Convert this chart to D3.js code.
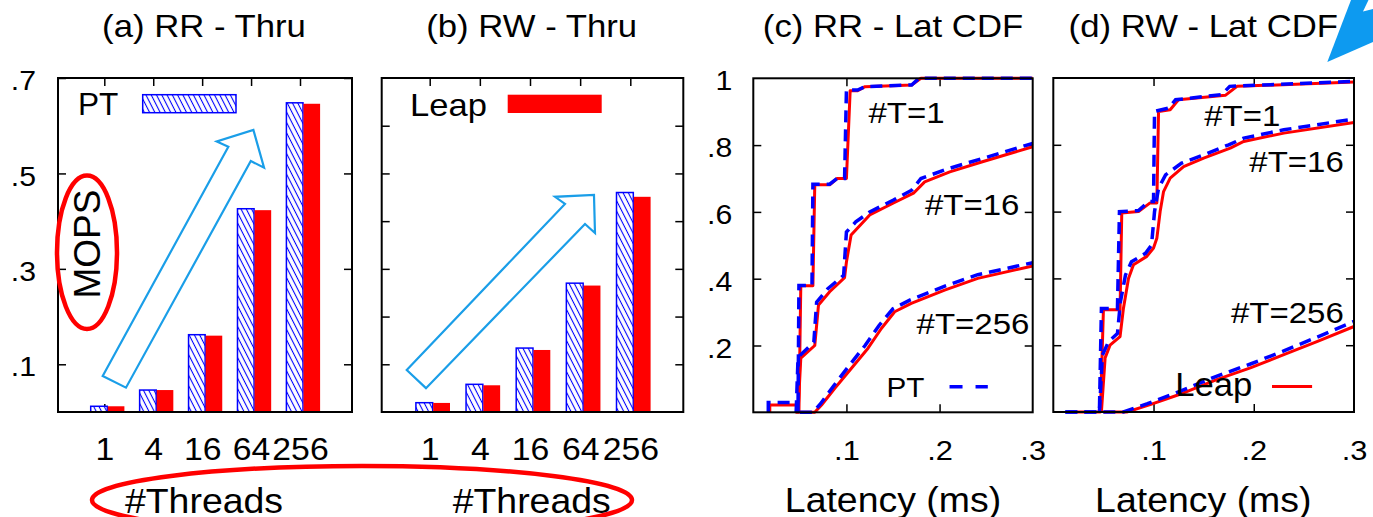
<!DOCTYPE html>
<html><head><meta charset="utf-8">
<script src="https://cdn.jsdelivr.net/npm/d3@7"></script>
<style>
html,body{margin:0;padding:0;background:#fff;}
svg{display:block;font-family:"Liberation Sans",Arial,Helvetica,sans-serif;}
</style></head><body>
<svg id="chart" width="1373" height="517"></svg>
<script>
// ---------------- data ----------------
const threadCats = ["1","4","16","64","256"];
const rrThruPT   = [0.012,0.046,0.162,0.426,0.648];
const rrThruLeap = [0.012,0.046,0.160,0.423,0.646];
const rwThruPT   = [0.0195,0.058,0.134,0.270,0.460];
const rwThruLeap = [0.019,0.056,0.130,0.265,0.451];
const thruTicksA = [0.1,0.3,0.5,0.7];
const thruTickLabelsA = [".1",".3",".5",".7"];
const thruTicksB = [0.1,0.2,0.3,0.4,0.5,0.6];
const cdfYTicks = [0.2,0.4,0.6,0.8,1];
const cdfYTickLabels = [".2",".4",".6",".8","1"];
const cdfXTicks = [0.1,0.2,0.3];
const cdfXTickLabels = [".1",".2",".3"];

// CDF series: [latency (ms), cumulative fraction]
const rrT1Leap = [[0.0177,0],[0.0177,0.022],[0.0464,0.022],[0.0464,0],[0.049,0],[0.051,0.379],[0.064,0.379],[0.066,0.681],[0.082,0.681],[0.090,0.70],[0.100,0.70],[0.104,0.963],[0.112,0.963],[0.120,0.975],[0.170,0.98],[0.180,1.0],[0.3,1.0]];
const rrT1PT   = [[0.0161,0],[0.0161,0.029],[0.048,0.029],[0.048,0],[0.048,0],[0.049,0.38],[0.063,0.38],[0.064,0.683],[0.082,0.683],[0.090,0.70],[0.098,0.70],[0.100,0.965],[0.112,0.965],[0.120,0.975],[0.170,0.98],[0.178,1.0],[0.3,1.0]];
const rrT16Leap = [[0.048,0],[0.051,0.162],[0.066,0.20],[0.070,0.321],[0.082,0.361],[0.098,0.403],[0.100,0.45],[0.105,0.531],[0.125,0.591],[0.15,0.626],[0.172,0.656],[0.184,0.69],[0.211,0.72],[0.246,0.75],[0.3,0.795]];
const rrT16PT   = [[0.046,0],[0.048,0.16],[0.050,0.17],[0.065,0.21],[0.068,0.33],[0.080,0.37],[0.097,0.41],[0.100,0.54],[0.110,0.57],[0.125,0.60],[0.15,0.635],[0.170,0.665],[0.180,0.70],[0.210,0.73],[0.246,0.76],[0.3,0.805]];
const rrT256Leap = [[0.05,0],[0.066,0],[0.0733,0.022],[0.0875,0.072],[0.1054,0.132],[0.1232,0.192],[0.1375,0.251],[0.1518,0.301],[0.1696,0.326],[0.2054,0.366],[0.241,0.401],[0.3,0.438]];
const rrT256PT   = [[0.05,0],[0.064,0],[0.072,0.025],[0.086,0.078],[0.103,0.14],[0.120,0.20],[0.135,0.26],[0.150,0.31],[0.168,0.336],[0.205,0.377],[0.241,0.412],[0.3,0.448]];

const rwT1Leap = [[0.015,0],[0.047,0],[0.050,0.306],[0.0666,0.306],[0.0683,0.596],[0.085,0.60],[0.0966,0.626],[0.1033,0.626],[0.105,0.90],[0.1166,0.905],[0.1249,0.935],[0.1716,0.948],[0.1833,0.975],[0.3,0.988]];
const rwT1PT   = [[0.012,0],[0.046,0],[0.048,0.31],[0.064,0.31],[0.066,0.60],[0.085,0.603],[0.095,0.63],[0.100,0.63],[0.101,0.90],[0.115,0.91],[0.122,0.935],[0.168,0.95],[0.176,0.975],[0.3,0.99]];
const rwT16Leap = [[0.048,0],[0.0517,0.162],[0.0566,0.2],[0.0666,0.226],[0.07,0.311],[0.075,0.40],[0.08,0.441],[0.0933,0.466],[0.1,0.491],[0.1033,0.52],[0.1066,0.6],[0.11,0.66],[0.1166,0.70],[0.13,0.735],[0.15,0.76],[0.1766,0.79],[0.19,0.81],[0.23,0.835],[0.3,0.867]];
const rwT16PT   = [[0.046,0],[0.049,0.17],[0.055,0.21],[0.064,0.235],[0.067,0.33],[0.072,0.41],[0.078,0.45],[0.092,0.475],[0.098,0.5],[0.101,0.6],[0.105,0.67],[0.112,0.71],[0.128,0.745],[0.15,0.77],[0.175,0.80],[0.19,0.82],[0.23,0.845],[0.3,0.877]];
const rwT256Leap = [[0.05,0],[0.0733,0],[0.0966,0.022],[0.13,0.057],[0.163,0.097],[0.1966,0.132],[0.23,0.172],[0.263,0.211],[0.3,0.256]];
const rwT256PT   = [[0.012,0],[0.07,0],[0.094,0.025],[0.128,0.064],[0.162,0.106],[0.196,0.143],[0.23,0.183],[0.263,0.224],[0.3,0.271]];

// annotation arrows, in (category index, MOPS) units
const arrowA = [[-0.094,0.0755],[2.474,0.556],[2.237,0.567],[2.986,0.591],[3.204,0.512],[2.933,0.526],[0.382,0.051]];
const arrowB = [[-0.518,0.088],[2.638,0.436],[2.439,0.451],[3.216,0.455],[3.236,0.375],[3.037,0.394],[-0.134,0.050]];

// ---------------- drawing ----------------
const RED = "#ff0000", BLUE = "#0000ff", LBLUE = "#1a9ee8";
const svg = d3.select("#chart");
const defs = svg.append("defs");
const pat = defs.append("pattern").attr("id","hatch").attr("patternUnits","userSpaceOnUse")
  .attr("width",4.7).attr("height",8).attr("patternTransform","rotate(-27)");
pat.append("rect").attr("width",4.7).attr("height",8).attr("fill","#fff");
pat.append("line").attr("x1",2.35).attr("x2",2.35).attr("y1",0).attr("y2",8).attr("stroke",BLUE).attr("stroke-width",1.1);

function label(g, x, y, s, size, sx, anchor) {
  return g.append("text").attr("transform", `translate(${x},${y}) scale(${sx},1)`)
    .attr("text-anchor", anchor || "start").attr("font-size", size).attr("fill","#000").text(s);
}
function styleAxis(sel) {
  sel.select(".domain").remove();
  sel.selectAll(".tick line").attr("stroke","#000").attr("stroke-width",1.5);
  sel.selectAll(".tick text").attr("fill","#000").attr("font-family",null);
}
function stretchTicks(sel, size, sx, dy, y) {
  sel.selectAll(".tick text").attr("font-size", size).each(function(){
    const t = d3.select(this);
    const x0 = +t.attr("x") || 0;
    const y0 = (y !== undefined) ? y : (+t.attr("y") || 0);
    t.attr("x", null).attr("y", null).attr("dy", dy)
     .attr("transform", `translate(${x0},${y0}) scale(${sx},1)`);
  });
}

function barPanel(cfg) {
  const f = cfg.frame;
  const g = svg.append("g");
  const x = d3.scalePoint().domain(threadCats).range(cfg.xr);
  const xt = d3.scalePoint().domain(threadCats).range([cfg.xr[0]-3, cfg.xr[1]-3]);
  const xi = d3.scaleLinear().domain([0,4]).range(cfg.xr);
  const y = d3.scaleLinear().domain([0,0.7]).range([f.y1,f.y0]);

  const la = g.append("g").attr("transform",`translate(${f.x0},0)`)
    .call(d3.axisLeft(y).tickValues(cfg.yTicks).tickSize(-8).tickPadding(22)
      .tickFormat((d,i)=> cfg.yLabels ? cfg.yLabels[i] : ""));
  styleAxis(la); stretchTicks(la, 27, 1.12, "0.43em");
  const ra = g.append("g").attr("transform",`translate(${f.x1},0)`)
    .call(d3.axisRight(y).tickValues(cfg.yTicks).tickSize(-8).tickFormat(""));
  styleAxis(ra);
  const ta = g.append("g").attr("transform",`translate(0,${f.y0})`)
    .call(d3.axisTop(xt).tickSize(-8).tickFormat(""));
  styleAxis(ta);
  const ba = g.append("g").attr("transform",`translate(0,${f.y1})`)
    .call(d3.axisBottom(xt).tickSize(-8));
  styleAxis(ba); stretchTicks(ba, 31, 1.09, "0", 48);

  g.append("g").selectAll("rect").data(threadCats).join("rect")
    .attr("x", d=>x(d)-cfg.bw).attr("width", cfg.bw)
    .attr("y", (d,i)=>y(cfg.pt[i])).attr("height",(d,i)=>f.y1-y(cfg.pt[i]))
    .attr("fill","url(#hatch)").attr("stroke",BLUE).attr("stroke-width",1.5);
  g.append("g").selectAll("rect").data(threadCats).join("rect")
    .attr("x", d=>x(d)+0.5).attr("width", cfg.bw)
    .attr("y", (d,i)=>y(cfg.leap[i])).attr("height",(d,i)=>f.y1-y(cfg.leap[i]))
    .attr("fill",RED);

  g.append("polygon").attr("points", cfg.arrow.map(p=>[xi(p[0]),y(p[1])].join(",")).join(" "))
    .attr("fill","none").attr("stroke",LBLUE).attr("stroke-width",2.2).attr("stroke-linejoin","miter");

  if (cfg.legend === "PT") {
    label(g, f.x0+20, 115, "PT", 31, 1.02);
    g.append("rect").attr("x",f.x0+84.7).attr("y",94.7).attr("width",93.3).attr("height",18)
      .attr("fill","url(#hatch)").attr("stroke",BLUE).attr("stroke-width",1.5);
  } else {
    label(g, f.x0+28.3, 116, "Leap", 32, 1.08);
    g.append("rect").attr("x",f.x0+126).attr("y",94.7).attr("width",94).attr("height",18.3).attr("fill",RED);
  }

  g.append("rect").attr("x",f.x0).attr("y",f.y0).attr("width",f.x1-f.x0).attr("height",f.y1-f.y0)
    .attr("fill","none").attr("stroke","#000").attr("stroke-width",2);

  label(svg, (f.x0+f.x1)/2 + cfg.titleDx, 37, cfg.title, 31, 1.12, "middle");
  label(svg, cfg.xlabX, 513, "#Threads", 35, 1.07, "middle");
}

function cdfPanel(cfg) {
  const f = cfg.frame;
  const g = svg.append("g");
  const x = d3.scaleLinear().domain([0,0.3]).range([f.x0,f.x1]);
  const y = d3.scaleLinear().domain([0,1]).range([f.y1,f.y0]);

  const la = g.append("g").attr("transform",`translate(${f.x0},0)`)
    .call(d3.axisLeft(y).tickValues(cfg.showY ? cdfYTicks : cdfYTicks.slice(0,4)).tickSize(-8).tickPadding(21)
      .tickFormat((d,i)=> cfg.showY ? cdfYTickLabels[i] : ""));
  styleAxis(la); stretchTicks(la, 27, 1.12, "0.43em");
  la.selectAll(".tick").filter(d=>d===1).select("line").remove();
  const ra = g.append("g").attr("transform",`translate(${f.x1},0)`)
    .call(d3.axisRight(y).tickValues(cdfYTicks.slice(0,4)).tickSize(-8).tickFormat(""));
  styleAxis(ra);
  const ta = g.append("g").attr("transform",`translate(0,${f.y0})`)
    .call(d3.axisTop(x).tickValues(cdfXTicks.slice(0,2)).tickSize(-8).tickFormat(""));
  styleAxis(ta);
  const ba = g.append("g").attr("transform",`translate(0,${f.y1})`)
    .call(d3.axisBottom(x).tickValues(cdfXTicks).tickSize(-8).tickFormat((d,i)=>cdfXTickLabels[i]));
  styleAxis(ba); stretchTicks(ba, 28, 1.1, "0", 48);
  ba.selectAll(".tick").filter(d=>d===0.3).select("line").remove();

  const line = d3.line().x(d=>x(d[0])).y(d=>y(d[1]));
  cfg.leap.forEach(s => g.append("path").attr("d", line(s)).attr("fill","none")
    .attr("stroke",RED).attr("stroke-width",3).attr("stroke-linejoin","round"));
  cfg.pt.forEach(s => g.append("path").attr("d", line(s)).attr("fill","none")
    .attr("stroke",BLUE).attr("stroke-width",3.5).attr("stroke-dasharray","12,7"));

  cfg.labels.forEach(l => label(g, x(l[0]), y(l[1]), l[2], 30, 1.1, "end"));

  if (cfg.legend === "PT") {
    label(g, x(0.1429), y(0.0467), "PT", 28, 1.06);
    g.append("line").attr("x1",x(0.2107)).attr("x2",x(0.2518)).attr("y1",y(0.0766)).attr("y2",y(0.0766))
      .attr("stroke",BLUE).attr("stroke-width",3.5).attr("stroke-dasharray","13,13");
  } else {
    label(g, x(0.1216), y(0.0467), "Leap", 33, 1.05);
    g.append("line").attr("x1",x(0.2182)).attr("x2",x(0.2582)).attr("y1",y(0.0766)).attr("y2",y(0.0766))
      .attr("stroke",RED).attr("stroke-width",3);
  }

  g.append("rect").attr("x",f.x0).attr("y",f.y0).attr("width",f.x1-f.x0).attr("height",f.y1-f.y0)
    .attr("fill","none").attr("stroke","#000").attr("stroke-width",2);

  label(svg, cfg.titleX, 37, cfg.title, 31, 1.12, "middle");
  label(svg, cfg.titleX, 511.7, "Latency (ms)", 35, 1.07, "middle");
}

barPanel({frame:{x0:58,x1:352,y0:78,y1:412}, xr:[107.3,303], bw:16.6,
  pt:rrThruPT, leap:rrThruLeap, yTicks:thruTicksA, yLabels:thruTickLabelsA,
  arrow:arrowA, legend:"PT", title:"(a) RR - Thru", titleDx:-1, xlabX:204});
barPanel({frame:{x0:381.7,x1:683.3,y0:78,y1:412}, xr:[432.7,633.3], bw:16.8,
  pt:rwThruPT, leap:rwThruLeap, yTicks:thruTicksB, yLabels:null,
  arrow:arrowB, legend:"Leap", title:"(b) RW - Thru", titleDx:-0.8, xlabX:531.7});

cdfPanel({frame:{x0:753.3,x1:1032.7,y0:78.3,y1:412.3}, showY:true,
  leap:[rrT1Leap,rrT16Leap,rrT256Leap], pt:[rrT1PT,rrT16PT,rrT256PT],
  labels:[[0.2054,0.867,"#T=1"],[0.2857,0.591,"#T=16"],[0.2964,0.2335,"#T=256"]],
  legend:"PT", title:"(c) RR - Lat CDF", titleX:893});
cdfPanel({frame:{x0:1053.3,x1:1354,y0:78,y1:412}, showY:false,
  leap:[rwT1Leap,rwT16Leap,rwT256Leap], pt:[rwT1PT,rwT16PT,rwT256PT],
  labels:[[0.2265,0.855,"#T=1"],[0.2898,0.72,"#T=16"],[0.2898,0.2665,"#T=256"]],
  legend:"Leap", title:"(d) RW - Lat CDF", titleX:1203.3});

svg.append("text").attr("transform","translate(100,244) rotate(-90)").attr("text-anchor","middle")
  .attr("font-size",37).text("MOPS");
svg.append("ellipse").attr("cx",87).attr("cy",252.3).attr("rx",30).attr("ry",76.7)
  .attr("fill","none").attr("stroke",RED).attr("stroke-width",4.5);
svg.append("ellipse").attr("cx",362).attr("cy",500).attr("rx",270).attr("ry",34)
  .attr("fill","none").attr("stroke",RED).attr("stroke-width",4.5);
svg.append("polygon").attr("points","1351,0 1373,0 1373,42 1327.3,62")
  .attr("fill","#0d9af0");
svg.append("polygon").attr("points","1368.5,0 1373,0 1373,9 1363,11.5")
  .attr("fill","#fff");
</script>
</body></html>
